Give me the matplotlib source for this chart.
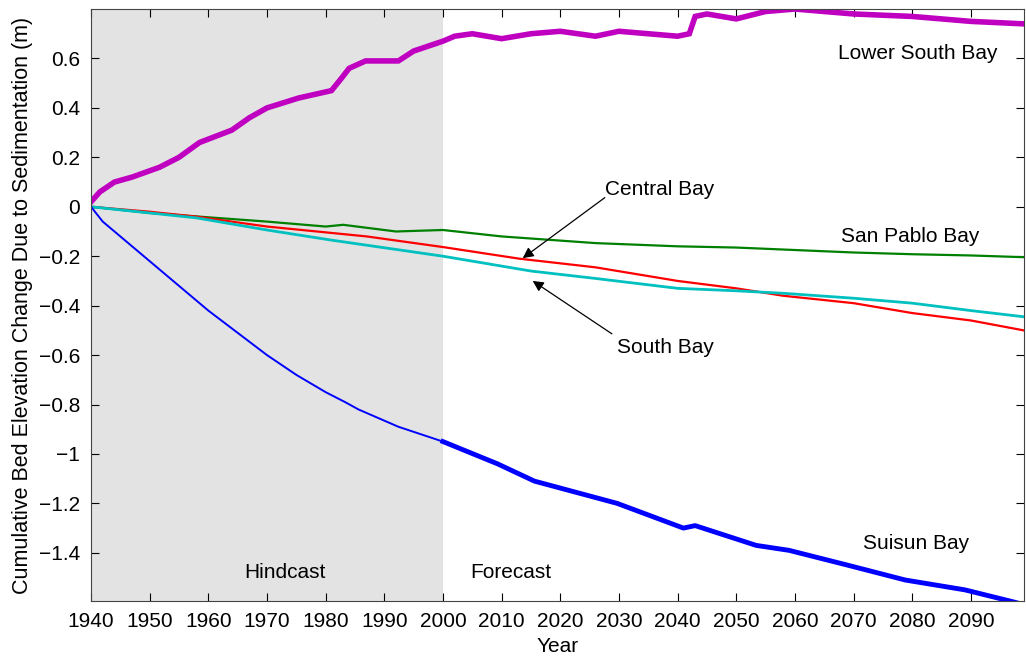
import numpy as np
import matplotlib.pyplot as plt

plt.rcParams['font.family'] = ['Liberation Sans', 'DejaVu Sans']

# Lower South Bay (magenta)
lsb_year = [1940, 1941.5, 1944, 1947, 1951.7, 1955, 1958.5, 1964, 1967, 1970, 1975.4, 1981,
            1982.7, 1984, 1986.8, 1992.4, 1995, 2000, 2002, 2005, 2010, 2015, 2020, 2026,
            2030, 2035, 2040, 2042, 2043, 2045, 2050, 2055, 2060, 2065, 2070, 2080, 2090, 2099]
lsb_val = [0.02, 0.06, 0.10, 0.12, 0.16, 0.20, 0.26, 0.31, 0.36, 0.40, 0.44, 0.47,
           0.52, 0.56, 0.59, 0.59, 0.63, 0.67, 0.69, 0.70, 0.68, 0.70, 0.71, 0.69,
           0.71, 0.70, 0.69, 0.70, 0.77, 0.78, 0.76, 0.79, 0.80, 0.79, 0.78, 0.77, 0.75, 0.74]

# San Pablo Bay (green)
spb_year = [1940, 1950, 1958.5, 1970, 1980, 1983, 1992, 2000, 2010, 2026, 2040, 2050,
            2060, 2070, 2080, 2090, 2099]
spb_val = [0.0, -0.025, -0.04, -0.06, -0.08, -0.073, -0.10, -0.094, -0.12, -0.147, -0.16, -0.165,
           -0.175, -0.185, -0.192, -0.197, -0.204]

# Central Bay (red)
cb_year = [1940, 1950, 1958, 1970, 1987, 2000, 2013, 2026, 2040, 2050, 2058, 2070, 2080, 2090, 2099]
cb_val = [0.0, -0.02, -0.04, -0.08, -0.12, -0.163, -0.21, -0.245, -0.30, -0.33, -0.36, -0.39,
          -0.43, -0.46, -0.50]

# South Bay (cyan)
sb_year = [1940, 1950, 1958, 1970, 1981, 2000, 2015, 2026, 2040, 2050, 2058, 2070, 2080, 2090, 2099]
sb_val = [0.0, -0.025, -0.045, -0.094, -0.135, -0.20, -0.26, -0.29, -0.33, -0.34, -0.35, -0.37,
          -0.39, -0.42, -0.445]

# Suisun Bay (blue)
sui_year = [1940, 1942, 1945, 1950, 1955, 1960, 1965, 1970, 1975, 1980, 1983.3, 1985.6, 1992.4,
            2000, 2009.3, 2015.6, 2029.7, 2041, 2043, 2053.4, 2059, 2069, 2078.8, 2089, 2097.5, 2099]
sui_val = [0.0, -0.06, -0.12, -0.22, -0.32, -0.42, -0.51, -0.60, -0.68, -0.75, -0.79, -0.82, -0.89,
           -0.95, -1.04, -1.11, -1.20, -1.30, -1.29, -1.37, -1.39, -1.45, -1.51, -1.55, -1.60, -1.61]

fig = plt.figure(figsize=(10.26, 6.59), dpi=100)
ax = fig.add_axes([0.0887, 0.0880, 0.909, 0.8983])

ax.axvspan(1940, 2000, color='#e3e3e3', zorder=0, lw=0)

ax.plot(spb_year, spb_val, color='#008000', lw=1.6)
ax.plot(cb_year, cb_val, color='#ff0000', lw=1.6)
ax.plot(sb_year, sb_val, color='#00c0c0', lw=2.0)

sui_year = np.array(sui_year)
sui_val = np.array(sui_val)
h = sui_year <= 2000
ax.plot(sui_year[h], sui_val[h], color='#0000ff', lw=1.4)
ax.plot(sui_year[sui_year >= 2000], sui_val[sui_year >= 2000], color='#0000ff', lw=3.5)

ax.plot(lsb_year, lsb_val, color='#c000c0', lw=4.0, solid_joinstyle='miter')

ax.set_xlim(1940, 2099)
ax.set_ylim(-1.595, 0.80)
ax.set_xticks(np.arange(1940, 2100, 10))
ax.set_yticks([-1.4, -1.2, -1, -0.8, -0.6, -0.4, -0.2, 0, 0.2, 0.4, 0.6])
ax.set_yticklabels(['\u22121.4', '\u22121.2', '\u22121', '\u22120.8', '\u22120.6', '\u22120.4',
                    '\u22120.2', '0', '0.2', '0.4', '0.6'])
ax.tick_params(direction='in', length=6, top=True, right=True, labelsize=15, pad=8)
for s in ax.spines.values():
    s.set_color('#444444')

ax.set_xlabel('Year', fontsize=15, labelpad=4)
ax.set_ylabel('Cumulative Bed Elevation Change Due to Sedimentation (m)', fontsize=15.5, labelpad=4)

tk = dict(fontsize=15, ha='center', va='center')
ax.text(2081, 0.62, 'Lower South Bay', **tk)
ax.text(2079.7, -0.122, 'San Pablo Bay', **tk)
ax.text(2080.7, -1.363, 'Suisun Bay', **tk)
ax.text(1973, -1.48, 'Hindcast', **tk)
ax.text(2011.5, -1.48, 'Forecast', **tk)

arr = dict(arrowstyle='-|>', color='black', lw=0.9, mutation_scale=16, shrinkA=0, shrinkB=0)
ax.annotate('', xy=(2013.6, -0.208), xytext=(2027.6, 0.037), arrowprops=arr)
ax.text(2037, 0.07, 'Central Bay', **tk)
ax.annotate('', xy=(2015.3, -0.30), xytext=(2028.8, -0.514), arrowprops=arr)
ax.text(2038, -0.57, 'South Bay', **tk)

fig.savefig('out.png', dpi=100)
